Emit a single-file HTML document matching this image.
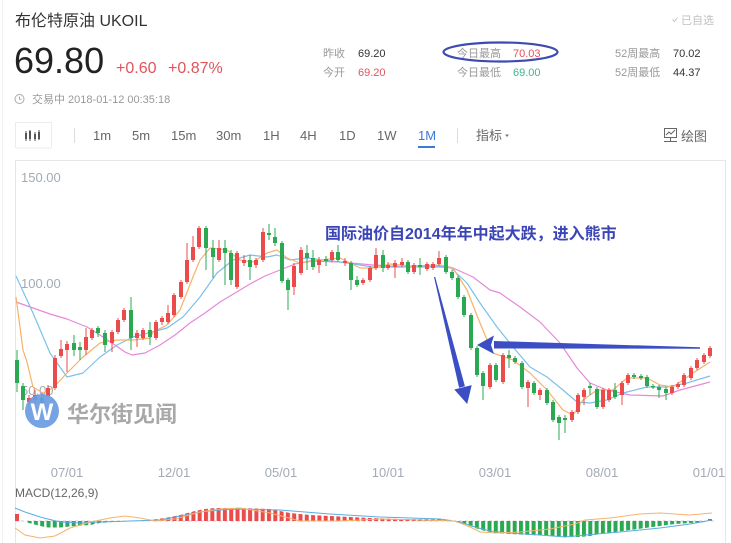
<!DOCTYPE html>
<html><head><meta charset="utf-8"><style>
html,body{margin:0;padding:0;background:#fff;}
svg{display:block;}
text{font-family:"Liberation Sans","Noto Sans CJK SC",sans-serif;}
</style></head><body>
<svg width="731" height="543" viewBox="0 0 731 543" xmlns="http://www.w3.org/2000/svg">
<rect width="731" height="543" fill="#fff"/>
<line x1="2.5" y1="0" x2="2.5" y2="543" stroke="#f2f2f2"/>

<text x="15" y="26" font-size="16" fill="#333">布伦特原油 UKOIL</text>
<text x="14" y="73" font-size="36" fill="#222">69.80</text>
<text x="116" y="73" font-size="16" fill="#e2535a">+0.60</text>
<text x="168" y="73" font-size="16" fill="#e2535a">+0.87%</text>

<path d="M672.5 19.5 L674.5 21.5 L677.5 17.5" stroke="#c4c4c4" fill="none" stroke-width="1"/>
<text x="681" y="24" font-size="11" fill="#c0c0c0">已自选</text>

<g font-size="11">
<text x="323" y="57" fill="#999">昨收</text><text x="358" y="57" fill="#333">69.20</text>
<text x="323" y="76" fill="#999">今开</text><text x="358" y="76" fill="#e2535a">69.20</text>
<text x="457" y="57" fill="#999">今日最高</text><text x="513" y="57" fill="#e2535a">70.03</text>
<text x="457" y="76" fill="#999">今日最低</text><text x="513" y="76" fill="#3cb88a">69.00</text>
<text x="615" y="57" fill="#999">52周最高</text><text x="673" y="57" fill="#333">70.02</text>
<text x="615" y="76" fill="#999">52周最低</text><text x="673" y="76" fill="#333">44.37</text>
</g>
<ellipse cx="500.5" cy="52" rx="57" ry="9.5" fill="none" stroke="#3d4bb0" stroke-width="2.2"/>

<circle cx="19.5" cy="99" r="4.5" fill="none" stroke="#aaa" stroke-width="1"/>
<path d="M19.5 96.5 V99.3 H21.5" fill="none" stroke="#aaa" stroke-width="1"/>
<text x="32" y="103" font-size="11" fill="#999">交易中 2018-01-12 00:35:18</text>

<rect x="15.5" y="122.5" width="36" height="25" fill="#fff" stroke="#ececec"/>
<rect x="16" y="147" width="36" height="2" fill="#f5f5f5"/>
<g fill="#555" stroke="#555" stroke-width="1">
<line x1="26" y1="131" x2="26" y2="141"/><rect x="25" y="133" width="2" height="6" stroke="none"/>
<line x1="30" y1="130" x2="30" y2="141"/><rect x="29" y="131" width="2" height="8" stroke="none"/>
<line x1="35" y1="132" x2="35" y2="141"/><rect x="34" y="134" width="2" height="5" stroke="none"/>
<line x1="39" y1="130" x2="39" y2="140"/><rect x="38" y="132" width="2" height="7" stroke="none"/>
</g>
<line x1="74.5" y1="128" x2="74.5" y2="143" stroke="#ddd"/>
<g font-size="13" fill="#666">
<text x="93" y="140">1m</text>
<text x="132" y="140">5m</text>
<text x="171" y="140">15m</text>
<text x="216" y="140">30m</text>
<text x="263" y="140">1H</text>
<text x="300" y="140">4H</text>
<text x="339" y="140">1D</text>
<text x="377" y="140">1W</text>
<text x="418" y="140" fill="#3a7bd5">1M</text>
<text x="476" y="140">指标</text>
<text x="681" y="141">绘图</text>
</g>
<rect x="418" y="146" width="17" height="2" fill="#3a7bd5"/>
<line x1="457.5" y1="128" x2="457.5" y2="143" stroke="#ddd"/>
<path d="M505 134.5 L509 134.5 L507 137 Z" fill="#777"/>
<g stroke="#666" fill="none" stroke-width="1">
<rect x="664.5" y="128.5" width="12" height="9"/>
<path d="M666 135 L669 132 L671 134 L675 130"/>
<line x1="664" y1="141.5" x2="677" y2="141.5"/>
<line x1="670.5" y1="138" x2="670.5" y2="141"/>
</g>

<path d="M15.5 543 V160.5 H725.5 V543" fill="none" stroke="#e6e6e6"/>

<g font-size="13" fill="#a3aab5">
<text x="21" y="182">150.00</text>
<text x="21" y="288">100.00</text>
<text x="21" y="395">50.00</text>
</g>

<g fill="none" stroke-width="1.2" stroke-linejoin="round">
<polyline stroke="#e58ad8" points="16,302 33,308 50,314 67,319 87,327 100,335 115,345 125,352 132,355 145,353 160,345 175,335 190,323 205,313 220,302 235,293 250,284 265,276 280,270 295,264 310,261 340,262 373,265 407,267 440,267 453,268 473,277 490,290 500,293 520,307 540,322 560,343 577,368 590,383 607,390 630,395 663,396 680,390 710,382"/>
<polyline stroke="#7cc0ea" points="16,276 33,313 50,353 67,377 83,373 100,357 117,345 133,337 167,328 183,317 200,297 217,273 233,260 250,255 267,257 277,255 290,260 307,258 340,262 373,267 407,267 440,266 450,267 467,283 480,303 497,327 513,347 530,367 547,377 563,390 577,402 590,403 607,400 623,393 647,387 667,387 687,383 710,376"/>
<polyline stroke="#f7b26a" points="16,297 23,350 27,362 33,387 43,393 53,388 67,373 83,357 100,343 117,340 133,340 150,338 153,332 167,325 180,310 193,277 200,260 210,248 227,250 240,260 253,262 267,253 277,250 287,258 300,263 320,260 340,258 360,268 375,268 390,264 410,266 440,265 453,268 467,290 480,323 490,347 493,353 513,360 530,373 547,390 563,410 573,415 583,400 597,390 613,390 627,378 647,378 660,385 673,387 693,373 710,362"/>
</g>

<g stroke="#eb4b4b" fill="#eb4b4b" stroke-width="1">
<line x1="29" y1="395" x2="29" y2="405"/><rect x="27" y="398" width="4" height="4" stroke="none"/>
<line x1="35" y1="390" x2="35" y2="405"/><rect x="33" y="395" width="4" height="5" stroke="none"/>
<line x1="48" y1="385" x2="48" y2="398"/><rect x="46" y="388" width="4" height="8" stroke="none"/>
<line x1="55" y1="355" x2="55" y2="390"/><rect x="53" y="358" width="4" height="30" stroke="none"/>
<line x1="61" y1="340" x2="61" y2="358"/><rect x="59" y="349" width="4" height="7" stroke="none"/>
<line x1="67" y1="341" x2="67" y2="372"/><rect x="65" y="344" width="4" height="6" stroke="none"/>
<line x1="86" y1="328" x2="86" y2="355"/><rect x="84" y="337" width="4" height="13" stroke="none"/>
<line x1="92" y1="328" x2="92" y2="340"/><rect x="90" y="330" width="4" height="8" stroke="none"/>
<line x1="112" y1="330" x2="112" y2="352"/><rect x="110" y="332" width="4" height="11" stroke="none"/>
<line x1="118" y1="318" x2="118" y2="334"/><rect x="116" y="320" width="4" height="12" stroke="none"/>
<line x1="124" y1="308" x2="124" y2="322"/><rect x="122" y="310" width="4" height="10" stroke="none"/>
<line x1="137" y1="330" x2="137" y2="347"/><rect x="135" y="333" width="4" height="5" stroke="none"/>
<line x1="143" y1="328" x2="143" y2="340"/><rect x="141" y="330" width="4" height="8" stroke="none"/>
<line x1="156" y1="320" x2="156" y2="340"/><rect x="154" y="322" width="4" height="16" stroke="none"/>
<line x1="162" y1="316" x2="162" y2="325"/><rect x="160" y="318" width="4" height="4" stroke="none"/>
<line x1="168" y1="305" x2="168" y2="324"/><rect x="166" y="313" width="4" height="9" stroke="none"/>
<line x1="174" y1="293" x2="174" y2="317"/><rect x="172" y="295" width="4" height="20" stroke="none"/>
<line x1="181" y1="280" x2="181" y2="299"/><rect x="179" y="282" width="4" height="15" stroke="none"/>
<line x1="187" y1="243" x2="187" y2="284"/><rect x="185" y="260" width="4" height="22" stroke="none"/>
<line x1="193" y1="236" x2="193" y2="262"/><rect x="191" y="247" width="4" height="13" stroke="none"/>
<line x1="199" y1="226" x2="199" y2="249"/><rect x="197" y="228" width="4" height="19" stroke="none"/>
<line x1="219" y1="240" x2="219" y2="262"/><rect x="217" y="248" width="4" height="12" stroke="none"/>
<line x1="237" y1="251" x2="237" y2="289"/><rect x="235" y="253" width="4" height="34" stroke="none"/>
<line x1="244" y1="255" x2="244" y2="266"/><rect x="242" y="260" width="4" height="3" stroke="none"/>
<line x1="256" y1="258" x2="256" y2="268"/><rect x="254" y="260" width="4" height="5" stroke="none"/>
<line x1="263" y1="228" x2="263" y2="262"/><rect x="261" y="232" width="4" height="28" stroke="none"/>
<line x1="294" y1="263" x2="294" y2="295"/><rect x="292" y="266" width="4" height="21" stroke="none"/>
<line x1="301" y1="247" x2="301" y2="275"/><rect x="299" y="250" width="4" height="23" stroke="none"/>
<line x1="319" y1="257" x2="319" y2="273"/><rect x="317" y="260" width="4" height="5" stroke="none"/>
<line x1="332" y1="250" x2="332" y2="262"/><rect x="330" y="252" width="4" height="8" stroke="none"/>
<line x1="345" y1="258" x2="345" y2="266"/><rect x="343" y="261" width="4" height="2" stroke="none"/>
<line x1="363" y1="278" x2="363" y2="285"/><rect x="361" y="280" width="4" height="3" stroke="none"/>
<line x1="370" y1="266" x2="370" y2="282"/><rect x="368" y="268" width="4" height="12" stroke="none"/>
<line x1="376" y1="248" x2="376" y2="270"/><rect x="374" y="255" width="4" height="13" stroke="none"/>
<line x1="388" y1="262" x2="388" y2="270"/><rect x="386" y="265" width="4" height="3" stroke="none"/>
<line x1="395" y1="260" x2="395" y2="278"/><rect x="393" y="263" width="4" height="4" stroke="none"/>
<line x1="402" y1="258" x2="402" y2="267"/><rect x="400" y="262" width="4" height="3" stroke="none"/>
<line x1="414" y1="263" x2="414" y2="274"/><rect x="412" y="265" width="4" height="7" stroke="none"/>
<line x1="427" y1="262" x2="427" y2="271"/><rect x="425" y="264" width="4" height="5" stroke="none"/>
<line x1="433" y1="262" x2="433" y2="270"/><rect x="431" y="264" width="4" height="4" stroke="none"/>
<line x1="439" y1="251" x2="439" y2="266"/><rect x="437" y="258" width="4" height="6" stroke="none"/>
<line x1="490" y1="363" x2="490" y2="389"/><rect x="488" y="365" width="4" height="22" stroke="none"/>
<line x1="503" y1="353" x2="503" y2="384"/><rect x="501" y="355" width="4" height="27" stroke="none"/>
<line x1="528" y1="380" x2="528" y2="407"/><rect x="526" y="382" width="4" height="6" stroke="none"/>
<line x1="540" y1="388" x2="540" y2="400"/><rect x="538" y="390" width="4" height="5" stroke="none"/>
<line x1="572" y1="410" x2="572" y2="422"/><rect x="570" y="412" width="4" height="8" stroke="none"/>
<line x1="578" y1="393" x2="578" y2="414"/><rect x="576" y="395" width="4" height="17" stroke="none"/>
<line x1="584" y1="388" x2="584" y2="405"/><rect x="582" y="390" width="4" height="7" stroke="none"/>
<line x1="603" y1="388" x2="603" y2="409"/><rect x="601" y="390" width="4" height="17" stroke="none"/>
<line x1="609" y1="388" x2="609" y2="402"/><rect x="607" y="390" width="4" height="10" stroke="none"/>
<line x1="622" y1="381" x2="622" y2="405"/><rect x="620" y="383" width="4" height="12" stroke="none"/>
<line x1="628" y1="373" x2="628" y2="385"/><rect x="626" y="375" width="4" height="8" stroke="none"/>
<line x1="672" y1="385" x2="672" y2="395"/><rect x="670" y="387" width="4" height="6" stroke="none"/>
<line x1="678" y1="382" x2="678" y2="389"/><rect x="676" y="384" width="4" height="3" stroke="none"/>
<line x1="684" y1="373" x2="684" y2="387"/><rect x="682" y="375" width="4" height="10" stroke="none"/>
<line x1="691" y1="366" x2="691" y2="380"/><rect x="689" y="368" width="4" height="10" stroke="none"/>
<line x1="697" y1="358" x2="697" y2="370"/><rect x="695" y="360" width="4" height="8" stroke="none"/>
<line x1="704" y1="353" x2="704" y2="364"/><rect x="702" y="355" width="4" height="7" stroke="none"/>
<line x1="710" y1="346" x2="710" y2="358"/><rect x="708" y="348" width="4" height="8" stroke="none"/>
</g>

<g stroke="#2aa852" fill="#2aa852" stroke-width="1">
<line x1="17" y1="350" x2="17" y2="392"/><rect x="15" y="360" width="4" height="23" stroke="none"/>
<line x1="23" y1="383" x2="23" y2="410"/><rect x="21" y="386" width="4" height="14" stroke="none"/>
<line x1="42" y1="393" x2="42" y2="412"/><rect x="40" y="398" width="4" height="6" stroke="none"/>
<line x1="74" y1="335" x2="74" y2="356"/><rect x="72" y="343" width="4" height="7" stroke="none"/>
<line x1="80" y1="342" x2="80" y2="360"/><rect x="78" y="347" width="4" height="3" stroke="none"/>
<line x1="98" y1="326" x2="98" y2="337"/><rect x="96" y="328" width="4" height="5" stroke="none"/>
<line x1="105" y1="330" x2="105" y2="352"/><rect x="103" y="333" width="4" height="12" stroke="none"/>
<line x1="131" y1="297" x2="131" y2="350"/><rect x="129" y="310" width="4" height="28" stroke="none"/>
<line x1="150" y1="322" x2="150" y2="345"/><rect x="148" y="330" width="4" height="7" stroke="none"/>
<line x1="206" y1="226" x2="206" y2="270"/><rect x="204" y="228" width="4" height="20" stroke="none"/>
<line x1="213" y1="240" x2="213" y2="278"/><rect x="211" y="248" width="4" height="9" stroke="none"/>
<line x1="225" y1="240" x2="225" y2="285"/><rect x="223" y="248" width="4" height="5" stroke="none"/>
<line x1="231" y1="250" x2="231" y2="285"/><rect x="229" y="253" width="4" height="27" stroke="none"/>
<line x1="250" y1="255" x2="250" y2="280"/><rect x="248" y="260" width="4" height="7" stroke="none"/>
<line x1="269" y1="224" x2="269" y2="240"/><rect x="267" y="233" width="4" height="2" stroke="none"/>
<line x1="275" y1="228" x2="275" y2="246"/><rect x="273" y="237" width="4" height="6" stroke="none"/>
<line x1="282" y1="241" x2="282" y2="283"/><rect x="280" y="243" width="4" height="38" stroke="none"/>
<line x1="288" y1="278" x2="288" y2="310"/><rect x="286" y="280" width="4" height="10" stroke="none"/>
<line x1="307" y1="245" x2="307" y2="270"/><rect x="305" y="253" width="4" height="5" stroke="none"/>
<line x1="313" y1="250" x2="313" y2="270"/><rect x="311" y="258" width="4" height="9" stroke="none"/>
<line x1="326" y1="256" x2="326" y2="266"/><rect x="324" y="259" width="4" height="2" stroke="none"/>
<line x1="338" y1="245" x2="338" y2="262"/><rect x="336" y="252" width="4" height="8" stroke="none"/>
<line x1="351" y1="261" x2="351" y2="290"/><rect x="349" y="263" width="4" height="17" stroke="none"/>
<line x1="357" y1="276" x2="357" y2="287"/><rect x="355" y="280" width="4" height="5" stroke="none"/>
<line x1="383" y1="250" x2="383" y2="272"/><rect x="381" y="255" width="4" height="13" stroke="none"/>
<line x1="408" y1="260" x2="408" y2="274"/><rect x="406" y="262" width="4" height="10" stroke="none"/>
<line x1="420" y1="258" x2="420" y2="275"/><rect x="418" y="265" width="4" height="2" stroke="none"/>
<line x1="446" y1="255" x2="446" y2="274"/><rect x="444" y="257" width="4" height="15" stroke="none"/>
<line x1="452" y1="270" x2="452" y2="280"/><rect x="450" y="272" width="4" height="6" stroke="none"/>
<line x1="458" y1="276" x2="458" y2="299"/><rect x="456" y="278" width="4" height="19" stroke="none"/>
<line x1="464" y1="295" x2="464" y2="317"/><rect x="462" y="297" width="4" height="18" stroke="none"/>
<line x1="471" y1="313" x2="471" y2="350"/><rect x="469" y="315" width="4" height="33" stroke="none"/>
<line x1="477" y1="346" x2="477" y2="377"/><rect x="475" y="348" width="4" height="27" stroke="none"/>
<line x1="483" y1="371" x2="483" y2="400"/><rect x="481" y="373" width="4" height="13" stroke="none"/>
<line x1="496" y1="363" x2="496" y2="382"/><rect x="494" y="365" width="4" height="15" stroke="none"/>
<line x1="509" y1="350" x2="509" y2="368"/><rect x="507" y="355" width="4" height="3" stroke="none"/>
<line x1="515" y1="356" x2="515" y2="364"/><rect x="513" y="358" width="4" height="4" stroke="none"/>
<line x1="522" y1="361" x2="522" y2="389"/><rect x="520" y="363" width="4" height="24" stroke="none"/>
<line x1="534" y1="381" x2="534" y2="395"/><rect x="532" y="383" width="4" height="10" stroke="none"/>
<line x1="547" y1="388" x2="547" y2="405"/><rect x="545" y="390" width="4" height="13" stroke="none"/>
<line x1="553" y1="400" x2="553" y2="422"/><rect x="551" y="402" width="4" height="18" stroke="none"/>
<line x1="559" y1="415" x2="559" y2="440"/><rect x="557" y="417" width="4" height="6" stroke="none"/>
<line x1="565" y1="415" x2="565" y2="433"/><rect x="563" y="418" width="4" height="2" stroke="none"/>
<line x1="590" y1="383" x2="590" y2="395"/><rect x="588" y="386" width="4" height="2" stroke="none"/>
<line x1="597" y1="387" x2="597" y2="409"/><rect x="595" y="389" width="4" height="18" stroke="none"/>
<line x1="615" y1="383" x2="615" y2="399"/><rect x="613" y="390" width="4" height="7" stroke="none"/>
<line x1="634" y1="373" x2="634" y2="379"/><rect x="632" y="375" width="4" height="2" stroke="none"/>
<line x1="641" y1="374" x2="641" y2="380"/><rect x="639" y="376" width="4" height="2" stroke="none"/>
<line x1="647" y1="375" x2="647" y2="388"/><rect x="645" y="377" width="4" height="9" stroke="none"/>
<line x1="653" y1="384" x2="653" y2="389"/><rect x="651" y="386" width="4" height="1.5" stroke="none"/>
<line x1="659" y1="385" x2="659" y2="398"/><rect x="657" y="387" width="4" height="3" stroke="none"/>
<line x1="666" y1="387" x2="666" y2="400"/><rect x="664" y="389" width="4" height="4" stroke="none"/>
</g>

<circle cx="42" cy="411" r="17" fill="#6a9be2" opacity="0.92"/>
<text x="42" y="420" font-size="24" font-weight="bold" fill="#fff" text-anchor="middle" font-family="'Liberation Serif',serif">W</text>
<text x="67" y="422" font-size="22" font-weight="bold" fill="#9a9a9a" opacity="0.85" font-family="'Noto Serif CJK SC','Liberation Serif',serif">华尔街见闻</text>

<text x="325" y="239" font-size="16" font-weight="bold" fill="#3b45b6">国际油价自2014年年中起大跌，进入熊市</text>

<g fill="#3b4ec4">
<polygon points="434,277 435.2,277 464.9,386.2 459.1,387.8"/>
<polygon points="454.3,389.5 471.7,385.1 467.2,404"/>
<polygon points="494,341 700,347.3 700,348.7 494,348.5"/>
<polygon points="494,335.5 477,345 494,354 491,345"/>
</g>

<g font-size="13" fill="#a3aab5" text-anchor="middle">
<text x="67" y="477">07/01</text>
<text x="174" y="477">12/01</text>
<text x="281" y="477">05/01</text>
<text x="388" y="477">10/01</text>
<text x="495" y="477">03/01</text>
<text x="602" y="477">08/01</text>
<text x="709" y="477">01/01</text>
</g>

<text x="15" y="497" font-size="12" fill="#666">MACD(12,26,9)</text>

<defs>
<pattern id="pr" x="15" y="0" width="6.3" height="20" patternUnits="userSpaceOnUse"><rect x="0" y="0" width="4" height="20" fill="#eb4b4b"/></pattern>
<pattern id="pg" x="15" y="0" width="6.3" height="20" patternUnits="userSpaceOnUse"><rect x="0" y="0" width="4" height="20" fill="#2aa852"/></pattern>
</defs>
<line x1="15" y1="521" x2="715" y2="521" stroke="#c8a0c8" stroke-width="1" stroke-dasharray="3,3" opacity="0.6"/>
<rect x="15" y="514" width="4" height="7" fill="#eb4b4b"/>
<polygon fill="url(#pg)" points="27,521 27,522.5 33,524 40,526 48,527.5 60,527.5 75,526 90,525 100,523 112,522 120,522 120,521"/>
<polygon fill="url(#pr)" points="150,521 150,520 165,518 180,515 195,511 205,509 215,508 240,508 270,509 280,511 290,513 310,515 330,516 350,517 370,518 400,519 450,519.5 450,521"/>
<polygon fill="url(#pg)" points="455,521 455,522 465,524 475,528 485,531 495,533 510,534 530,535 550,536 565,537 580,537 590,536 600,534 615,532 630,530 645,528 660,526 675,524 690,523 705,522 705,521"/>
<rect x="708" y="519" width="4" height="2" fill="#eb4b4b"/>
<g fill="none" stroke-width="1">
<polyline stroke="#5aaee0" points="15,508 25,512 40,517 60,522 80,523 100,522 130,521 160,520 180,516 200,512 220,510 240,509 280,510 330,514 380,517 440,519 460,522 475,527 490,531 510,533 540,535 565,537 585,535 620,532 660,528 690,524 712,520"/>
<polyline stroke="#f5b36b" points="15,528 25,535 40,538 55,536 70,528 90,522 110,518 125,516 140,518 155,521 175,519 200,512 220,509 240,508 270,513 285,517 300,521 340,521 380,519 420,520 455,521 470,527 480,532 495,533 520,532 550,529 575,524 585,520 610,518 640,514 660,513 690,515 712,513"/>
</g>
</svg>
</body></html>
